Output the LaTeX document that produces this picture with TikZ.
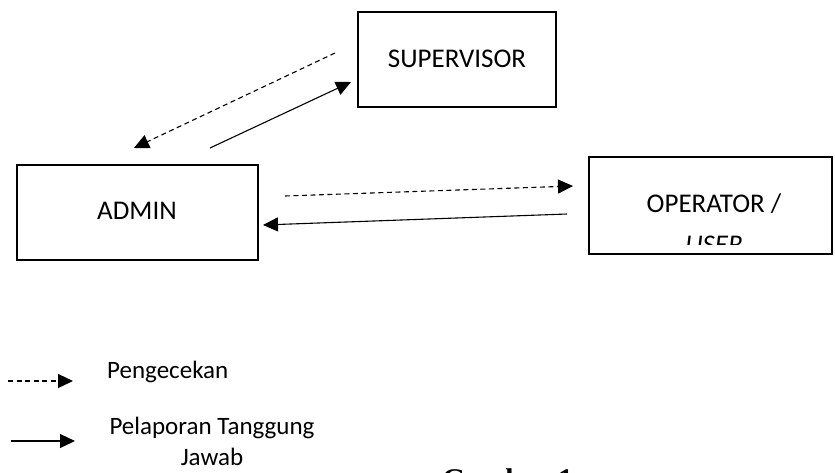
\documentclass[tikz,border=0pt]{standalone}
\usepackage{fontspec}
\setmainfont{Carlito}
\newfontfamily\capfont{Liberation Serif}
\usetikzlibrary{arrows.meta}
\begin{document}
\begin{tikzpicture}[x=1pt,y=-1pt,
  box/.style={draw,line width=1.1pt,rectangle,inner sep=0pt},
  lbl/.style={font=\fontsize{27}{32}\selectfont,inner sep=0pt},
  leg/.style={font=\fontsize{25}{31}\selectfont,inner sep=0pt},
  arr/.style={line width=1.1pt,-{Triangle[length=15pt,width=14pt]}},
  darr/.style={arr,dash pattern=on 5pt off 3.5pt}]
\useasboundingbox (0,0) rectangle (835,472);
% boxes
\node[box,minimum width=198pt,minimum height=95pt] (sup) at (457,59.5) {};
\node[lbl] (suptxt) at (457,59) {SUPERVISOR};
\node[box,minimum width=241pt,minimum height=95pt] (admin) at (137.5,212.5) {};
\node[lbl] (admintxt) at (137,211) {ADMIN};
\node[box,minimum width=243pt,minimum height=97pt] (op) at (710.5,205.5) {};
\node[lbl] (optxt) at (714,204) {OPERATOR /};
\begin{scope}
\clip (590,158) rectangle (831,244);
\node[lbl,font=\fontsize{27}{32}\selectfont\itshape] (usertxt) at (714,245) {USER};
\end{scope}
% connector end points
\coordinate (a1) at (335,53);
\coordinate (a2) at (134,148);
\coordinate (b1) at (210,148);
\coordinate (b2) at (351,82);
\coordinate (c1) at (285,196);
\coordinate (c2) at (573,186);
\coordinate (d1) at (567,214);
\coordinate (d2) at (263,225);
\draw[darr] (a1) -- (a2);
\draw[arr] (b1) -- (b2);
\draw[darr] (c1) -- (c2);
\draw[arr] (d1) -- (d2);
% legend
\coordinate (l1) at (8,381);
\coordinate (l2) at (73,381);
\coordinate (m1) at (11,441);
\coordinate (m2) at (75,441);
\draw[darr] (l1) -- (l2);
\draw[arr] (m1) -- (m2);
\node[leg,anchor=west] (legd) at (107,372) {Pengecekan};
\node[leg,align=center] (legs) at (212,441) {Pelaporan Tanggung\\Jawab};
% caption (cut off by the page edge)
\node[font=\capfont\bfseries\fontsize{30}{34}\selectfont,anchor=base west,inner sep=0pt] (cap) at (442,489) {Gambar 1};
\end{tikzpicture}
\end{document}
